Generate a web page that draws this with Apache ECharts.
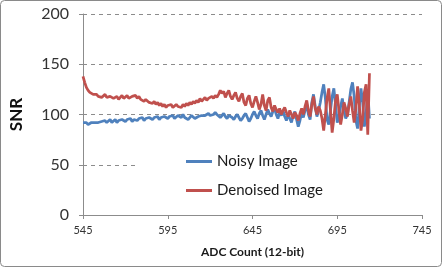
<!DOCTYPE html>
<html>
<head>
<meta charset="utf-8">
<script src="https://cdn.jsdelivr.net/npm/echarts@6/dist/echarts.min.js"></script>
<style>
html,body{margin:0;padding:0;background:#fff;}
#c{width:442px;height:267px;}
</style>
</head>
<body>
<div id="c"></div>
<script>
// ADC counts (x) start and step
const adcStart = 545;
const xTicks = [545, 595, 645, 695, 745];
const yTicks = [0, 50, 100, 150, 200];
const seriesNames = ["Noisy Image", "Denoised Image"];

const noisy = [
  92, 91, 92, 90, 91, 92, 91, 92, 93, 92,
  91, 93, 92, 94, 92, 93, 95, 92, 93, 95,
  92, 94, 93, 95, 94, 93, 95, 94, 96, 93,
  95, 96, 94, 96, 95, 97, 94, 96, 95, 97,
  96, 95, 97, 96, 98, 95, 97, 96, 98, 97,
  96, 98, 97, 99, 96, 97, 99, 98, 97, 100,
  97, 96, 95, 97, 99, 98, 96, 97, 98, 97,
  99, 98, 99, 100, 101, 99, 98, 100, 102, 100,
  99, 97, 99, 101, 98, 96, 99, 100, 97, 95,
  98, 100, 97, 94, 96, 99, 101, 97, 93, 96,
  100, 103, 99, 96, 101, 104, 99, 95, 100, 105,
  101, 98, 103, 106, 100, 96, 102, 99, 104, 98,
  94, 100, 96, 92, 99, 103, 95, 88, 94, 102,
  97, 104, 110, 100, 95, 112, 120, 108, 98, 104,
  112, 122, 130, 116, 95, 90, 104, 118, 126, 110,
  92, 98, 108, 116, 104, 96, 100, 112, 125, 132,
  118, 94, 86, 108, 126, 112, 88, 100, 124, 96
];

const denoised = [
  138, 132, 127, 124, 122, 121, 120, 119, 120, 118,
  119, 117, 118, 120, 117, 116, 118, 119, 116, 117,
  118, 115, 117, 119, 116, 117, 119, 116, 115, 118,
  117, 119, 116, 118, 115, 116, 113, 115, 114, 112,
  113, 111, 113, 110, 112, 109, 111, 108, 110, 107,
  109, 108, 110, 107, 108, 110, 108, 109, 107, 110,
  108, 111, 109, 112, 110, 113, 111, 114, 112, 116,
  113, 115, 117, 114, 116, 115, 118, 116, 119, 117,
  120, 124, 121, 123, 117, 121, 124, 118, 115, 119,
  122, 116, 113, 118, 121, 112, 109, 116, 119, 111,
  107, 113, 118, 112, 105, 110, 120, 109, 104, 114,
  117, 107, 103, 109, 105, 102, 106, 100, 104, 107,
  102, 98, 104, 100, 96, 102, 99, 94, 101, 106,
  100, 108, 114, 104, 98, 110, 118, 106, 100, 108,
  104, 96, 84, 100, 116, 126, 104, 82, 96, 114,
  120, 104, 90, 100, 112, 106, 98, 110, 118, 104,
  92, 106, 128, 110, 84, 96, 122, 130, 80, 141
];

const toPairs = arr => arr.map((v, i) => [i, v]); // x offset from adcStart
const xMin = 0, xMax = xTicks[xTicks.length - 1] - adcStart, xInt = xTicks[1] - xTicks[0];

const chart = echarts.init(document.getElementById('c'), null, {renderer: 'canvas'});
const font = 'Lato, "Open Sans", sans-serif';
chart.setOption({
  animation: false,
  backgroundColor: '#fff',
  textStyle: {fontFamily: font},
  graphic: [{
    type: 'rect', z: 0, silent: true,
    shape: {x: 0.5, y: 0.5, width: 441, height: 266, r: 4},
    style: {fill: 'none', stroke: '#8a8a8a', lineWidth: 1}
  }],
  grid: {left: 82, right: 20, top: 14, bottom: 52},
  legend: {
    orient: 'vertical',
    left: 135, top: 140,
    z: 1,
    backgroundColor: '#fff',
    padding: [14, 108, 12, 51],
    itemGap: 14,
    itemWidth: 26, itemHeight: 3,
    icon: 'rect',
    textStyle: {fontFamily: font, fontSize: 15, color: '#1a1a1a'},
    data: seriesNames
  },
  xAxis: {
    type: 'value', min: xMin, max: xMax, interval: xInt,
    name: 'ADC Count (12-bit)', nameLocation: 'middle', nameGap: 31,
    nameTextStyle: {fontFamily: font, fontSize: 12, fontWeight: 'bold', color: '#1a1a1a'},
    axisLine: {show: true, onZero: false, lineStyle: {color: '#8c8c8c', width: 1}},
    axisTick: {show: true, length: 4, lineStyle: {color: '#8c8c8c'}},
    axisLabel: {margin: 10, fontSize: 11, color: '#333', fontFamily: font,
      formatter: v => String(v + adcStart)},
    splitLine: {show: false}
  },
  yAxis: {
    type: 'value', min: yTicks[0], max: yTicks[yTicks.length - 1], interval: yTicks[1] - yTicks[0],
    name: 'SNR', nameLocation: 'middle', nameGap: 58, nameRotate: 90,
    nameTextStyle: {fontFamily: font, fontSize: 17, fontWeight: 'bold', color: '#111'},
    axisLine: {show: true, lineStyle: {color: '#8c8c8c', width: 1}},
    axisTick: {show: true, length: 4, lineStyle: {color: '#8c8c8c'}},
    axisLabel: {margin: 14, fontSize: 16, color: '#333', fontFamily: font},
    splitLine: {show: true, lineStyle: {color: '#8c8c8c', type: [4, 4], width: 1}}
  },
  series: [
    {name: seriesNames[0], type: 'line', data: toPairs(noisy), showSymbol: false,
      lineStyle: {color: '#4F81BD', width: 2.75}, itemStyle: {color: '#4F81BD'}, z: 2},
    {name: seriesNames[1], type: 'line', data: toPairs(denoised), showSymbol: false,
      lineStyle: {color: '#C0504D', width: 2.75}, itemStyle: {color: '#C0504D'}, z: 3}
  ]
});
</script>
</body>
</html>
